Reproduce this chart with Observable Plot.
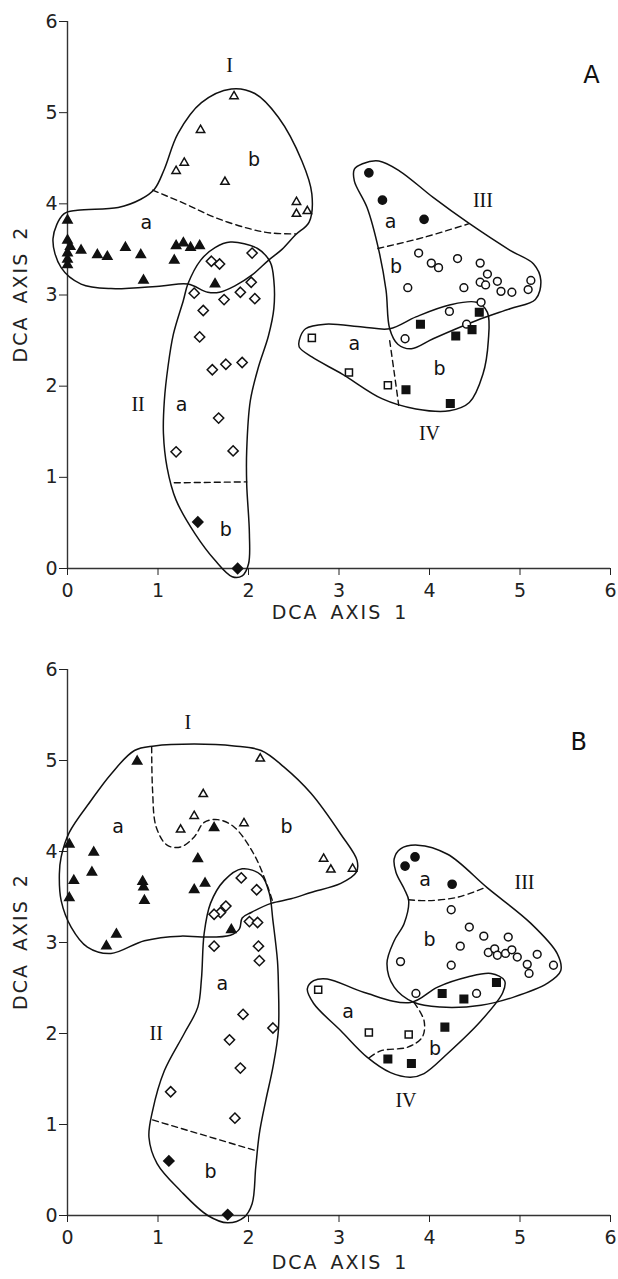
<!DOCTYPE html>
<html>
<head>
<meta charset="utf-8">
<script src="https://cdn.jsdelivr.net/npm/d3@7"></script>
<script src="https://cdn.jsdelivr.net/npm/@observablehq/plot@0.6"></script>
<style>
  html, body { margin: 0; padding: 0; background: #fff; }
  #chart svg { display: block; }
</style>
</head>
<body>
<div id="chart"></div>
<script>
// ---------- tick labels ----------
const xTicks = [0, 1, 2, 3, 4, 5, 6];
const yTicks = [0, 1, 2, 3, 4, 5, 6];
const xTitle = "DCA AXIS 1";
const yTitle = "DCA AXIS 2";

// ---------- Panel A : points ----------
const A_Ia = [[0,3.82],[0,3.60],[0.03,3.53],[0,3.46],[0,3.39],[0,3.33],[0.15,3.49],[0.33,3.44],[0.44,3.42],[0.64,3.52],[0.81,3.44],[0.84,3.16],[1.20,3.54],[1.28,3.57],[1.36,3.52],[1.46,3.54],[1.18,3.38],[1.63,3.12]];
const A_Ib = [[1.84,5.18],[1.47,4.81],[1.29,4.45],[1.20,4.36],[1.74,4.24],[2.53,4.02],[2.53,3.89],[2.65,3.92]];
const A_IIa = [[1.59,3.37],[1.68,3.34],[2.04,3.46],[2.03,3.14],[1.91,3.03],[2.07,2.96],[1.73,2.95],[1.40,3.02],[1.50,2.83],[1.46,2.54],[1.60,2.18],[1.75,2.24],[1.93,2.26],[1.67,1.65],[1.20,1.28],[1.83,1.29]];
const A_IIb = [[1.44,0.51],[1.88,0.0]];
const A_IIIa = [[3.33,4.34],[3.48,4.04],[3.94,3.83]];
const A_IIIb = [[3.88,3.46],[4.02,3.35],[4.10,3.30],[4.31,3.40],[4.56,3.35],[4.64,3.23],[4.56,3.14],[4.62,3.11],[4.75,3.15],[4.79,3.04],[4.91,3.03],[5.12,3.16],[5.09,3.06],[3.76,3.08],[4.38,3.08],[4.57,2.92],[4.22,2.82],[4.41,2.68],[3.73,2.52]];
const A_IVa = [[2.70,2.53],[3.11,2.15],[3.54,2.01]];
const A_IVb = [[4.55,2.81],[3.90,2.68],[4.29,2.55],[4.47,2.62],[3.74,1.96],[4.23,1.81]];

// ---------- Panel A : group outlines ----------
const A_hullI = [[-0.16,3.62],[-0.04,3.89],[0.11,3.93],[0.56,3.96],[0.81,4.05],[0.96,4.16],[1.07,4.38],[1.22,4.77],[1.48,5.11],[1.81,5.26],[2.07,5.21],[2.33,4.95],[2.59,4.47],[2.70,4.11],[2.67,3.80],[2.52,3.66],[2.37,3.50],[2.22,3.38],[2.04,3.22],[1.85,3.10],[1.68,3.03],[1.55,3.03],[1.33,3.12],[1.04,3.10],[0.48,3.07],[0.15,3.12],[-0.07,3.30]];
const A_dashI = [[0.94,4.15],[1.30,4.00],[1.63,3.85],[2.00,3.73],[2.25,3.68],[2.52,3.67]];
const A_hullII = [[1.80,3.58],[2.10,3.51],[2.24,3.36],[2.28,3.16],[2.28,2.85],[2.22,2.55],[2.11,2.21],[2.02,1.84],[1.98,1.29],[1.98,0.93],[2.01,0.38],[2.00,0.05],[1.93,-0.08],[1.82,-0.09],[1.63,0.09],[1.41,0.38],[1.20,0.75],[1.10,1.11],[1.06,1.48],[1.07,1.84],[1.11,2.21],[1.17,2.57],[1.28,2.94],[1.33,3.12],[1.47,3.38],[1.63,3.52]];
const A_dashII = [[1.18,0.94],[1.98,0.95]];
const A_hullIII = [[3.17,4.38],[3.26,4.44],[3.44,4.47],[3.67,4.36],[4.04,4.07],[4.43,3.79],[4.89,3.49],[5.15,3.34],[5.23,3.16],[5.17,2.95],[4.89,2.85],[4.52,2.72],[4.04,2.52],[3.80,2.41],[3.65,2.46],[3.56,2.63],[3.52,3.05],[3.44,3.49],[3.31,3.96],[3.17,4.25]];
const A_dashIII = [[3.43,3.51],[3.93,3.63],[4.43,3.78]];
const A_hullIV = [[2.56,2.50],[2.63,2.63],[2.85,2.68],[3.26,2.65],[3.56,2.63],[3.85,2.76],[4.22,2.89],[4.52,2.92],[4.64,2.81],[4.65,2.50],[4.59,2.13],[4.44,1.82],[4.22,1.73],[3.85,1.75],[3.48,1.86],[3.04,2.13],[2.70,2.32],[2.56,2.43]];
const A_dashIV = [[3.56,2.50],[3.61,2.15],[3.66,1.79]];

const A_numerals = [["I",1.79,5.52],["II",0.78,1.80],["III",4.59,4.04],["IV",4.0,1.48]];
const A_letters = [["a",0.87,3.79],["b",2.06,4.48],["a",1.26,1.79],["b",1.75,0.42],["a",3.57,3.80],["b",3.63,3.31],["a",3.17,2.46],["b",4.11,2.19]];
const A_panel = [["A",5.79,5.41]];

// ---------- Panel B : points ----------
const B_Ia = [[0.77,4.99],[1.62,4.26],[0.02,4.08],[0.29,3.99],[1.44,3.92],[0.07,3.68],[0.27,3.77],[0.83,3.67],[0.84,3.61],[0.85,3.46],[1.40,3.58],[1.52,3.65],[0.02,3.49],[0.54,3.09],[0.43,2.96],[1.81,3.14]];
const B_Ib = [[2.13,5.02],[1.50,4.63],[1.40,4.39],[1.25,4.24],[1.95,4.31],[2.83,3.92],[2.91,3.80],[3.15,3.81]];
const B_IIa = [[1.92,3.71],[2.09,3.58],[1.75,3.40],[1.69,3.33],[1.62,3.31],[2.01,3.23],[2.10,3.22],[1.62,2.96],[2.11,2.96],[2.12,2.80],[1.94,2.21],[2.27,2.06],[1.79,1.93],[1.91,1.62],[1.14,1.36],[1.85,1.07]];
const B_IIb = [[1.12,0.60],[1.77,0.01]];
const B_IIIa = [[3.84,3.94],[3.73,3.84],[4.25,3.64]];
const B_IIIb = [[4.24,3.36],[4.44,3.17],[4.60,3.07],[4.87,3.06],[4.34,2.96],[4.65,2.89],[4.72,2.93],[4.75,2.86],[4.84,2.88],[4.91,2.92],[4.97,2.84],[5.19,2.87],[5.08,2.76],[5.10,2.66],[5.37,2.75],[3.68,2.79],[4.24,2.75],[3.85,2.44],[4.52,2.44]];
const B_IVa = [[2.77,2.48],[3.33,2.01],[3.77,1.99]];
const B_IVb = [[4.74,2.56],[4.14,2.44],[4.38,2.38],[4.17,2.07],[3.54,1.72],[3.80,1.67]];

// ---------- Panel B : group outlines ----------
const B_hullI = [[-0.07,3.94],[0.02,4.21],[0.26,4.56],[0.48,4.85],[0.74,5.11],[0.96,5.16],[1.40,5.18],[1.84,5.16],[2.14,5.11],[2.39,4.93],[2.69,4.64],[3.02,4.19],[3.20,3.90],[3.19,3.77],[3.02,3.65],[2.69,3.55],[2.47,3.48],[2.25,3.43],[2.03,3.33],[1.93,3.27],[1.90,3.15],[1.80,3.08],[1.49,3.06],[1.25,3.07],[0.85,3.02],[0.48,2.88],[0.22,2.95],[0.04,3.17],[-0.07,3.46],[-0.09,3.75]];
const B_dashI = [[0.93,5.15],[0.94,4.67],[0.98,4.27],[1.10,4.07],[1.25,4.05],[1.40,4.16],[1.51,4.32],[1.66,4.35],[1.84,4.27],[2.06,3.97],[2.21,3.62],[2.27,3.44]];
const B_hullII = [[1.93,3.81],[2.14,3.74],[2.23,3.54],[2.27,3.24],[2.32,2.80],[2.33,2.55],[2.33,2.03],[2.27,1.63],[2.19,1.26],[2.12,0.90],[2.08,0.53],[2.04,0.13],[1.95,-0.02],[1.77,-0.08],[1.55,0.0],[1.25,0.27],[0.99,0.57],[0.90,0.86],[0.94,1.15],[1.07,1.59],[1.29,2.00],[1.44,2.29],[1.48,2.60],[1.51,3.10],[1.58,3.43],[1.73,3.68]];
const B_dashII = [[0.94,1.05],[2.09,0.71]];
const B_hullIII = [[3.61,3.92],[3.68,4.03],[3.87,4.07],[4.20,3.97],[4.64,3.60],[5.12,3.21],[5.41,2.88],[5.45,2.69],[5.30,2.55],[4.93,2.40],[4.57,2.31],[4.12,2.29],[3.83,2.34],[3.61,2.51],[3.53,2.77],[3.61,3.02],[3.72,3.21],[3.77,3.46],[3.72,3.59],[3.63,3.77]];
const B_dashIII = [[3.77,3.47],[3.99,3.46],[4.32,3.50],[4.63,3.61]];
const B_hullIV = [[2.65,2.49],[2.72,2.58],[2.87,2.60],[3.28,2.45],[3.79,2.34],[4.09,2.51],[4.42,2.62],[4.68,2.66],[4.83,2.58],[4.81,2.45],[4.57,2.14],[4.20,1.78],[3.94,1.56],[3.79,1.52],[3.57,1.57],[3.31,1.74],[3.02,2.03],[2.72,2.33]];
const B_dashIV = [[3.83,2.34],[3.94,2.14],[3.92,1.96],[3.76,1.85],[3.46,1.81],[3.33,1.73]];

const B_numerals = [["I",1.33,5.42],["II",0.98,2.00],["III",5.05,3.66],["IV",3.74,1.26]];
const B_letters = [["a",0.56,4.27],["b",2.42,4.27],["a",1.71,2.55],["b",1.58,0.48],["a",3.95,3.69],["b",4.00,3.03],["a",3.10,2.24],["b",4.06,1.83]];
const B_panel = [["B",5.65,5.20]];

// ---------- drawing helpers ----------
const INK = "#111";
const px = d => d[0], py = d => d[1];

function dots(data, symbol, filled, r) {
  return Plot.dot(data, {x: px, y: py, symbol, r, fill: filled ? INK : "white", stroke: INK, strokeWidth: 1.5});
}
function hull(data) {
  return Plot.line(data, {x: px, y: py, curve: "catmull-rom-closed", stroke: INK, strokeWidth: 1.5});
}
function dash(data) {
  return Plot.line(data, {x: px, y: py, curve: "catmull-rom", stroke: INK, strokeWidth: 1.4, strokeDasharray: "6,4"});
}

function panel(P, opts) {
  const svg = Plot.plot({
    width: 618,
    height: opts.height,
    marginTop: opts.marginTop,
    marginBottom: opts.marginBottom,
    marginLeft: 67,
    marginRight: 8,
    x: {domain: [0, 6]},
    y: {domain: [0, 6]},
    style: {fontFamily: "DejaVu Sans", color: "#222", background: "white", overflow: "visible"},
    marks: [
      Plot.ruleX([0], {y1: 0, y2: 6, stroke: "#333", strokeWidth: 1.4}),
      Plot.ruleY([0], {x1: 0, x2: 6, stroke: "#333", strokeWidth: 1.4}),
      Plot.axisX({ticks: xTicks, tickSize: 7, tickPadding: 8, fontSize: 19, label: null, tickFormat: d => String(d)}),
      Plot.axisY({ticks: yTicks, tickSize: 8, tickPadding: 2, fontSize: 19, label: null, tickFormat: d => String(d)}),
      Plot.text([xTitle], {text: d => d, frameAnchor: "bottom", dy: opts.xTitleDy, dx: 1, lineAnchor: "middle", fontSize: 19, fill: "#222"}),
      Plot.text([yTitle], {text: d => d, frameAnchor: "left", dx: -47, dy: -1, rotate: -90, textAnchor: "middle", lineAnchor: "middle", fontSize: 19, fill: "#222"}),
      hull(P.hullI), dash(P.dashI),
      hull(P.hullII), dash(P.dashII),
      hull(P.hullIII), dash(P.dashIII),
      hull(P.hullIV), dash(P.dashIV),
      dots(P.Ia, "triangle2", true, 4.4),
      dots(P.Ib, "triangle2", false, 4),
      dots(P.IIa, "diamond2", false, 4.6),
      dots(P.IIb, "diamond2", true, 4.6),
      dots(P.IIIa, "circle", true, 4.1),
      dots(P.IIIb, "circle", false, 3.9),
      dots(P.IVa, "square2", false, 4.5),
      dots(P.IVb, "square2", true, 4.8),
      Plot.text(P.numerals, {x: d => d[1], y: d => d[2], text: d => d[0], fontFamily: "Liberation Serif", fontSize: 20, fill: INK}),
      Plot.text(P.letters, {x: d => d[1], y: d => d[2], text: d => d[0], fontFamily: "DejaVu Sans", fontSize: 19, fill: INK}),
      Plot.text(P.panel, {x: d => d[1], y: d => d[2], text: d => d[0], fontFamily: "DejaVu Sans", fontSize: 24, fill: INK})
    ]
  });
  // widen the axis titles' letter spacing, as in the original figure
  svg.querySelectorAll("text").forEach(t => {
    if (t.textContent === xTitle || t.textContent === yTitle) {
      t.style.letterSpacing = "2px";
      t.style.wordSpacing = "4px";
    }
  });
  return svg;
}

const PA = {Ia: A_Ia, Ib: A_Ib, IIa: A_IIa, IIb: A_IIb, IIIa: A_IIIa, IIIb: A_IIIb, IVa: A_IVa, IVb: A_IVb,
  hullI: A_hullI, dashI: A_dashI, hullII: A_hullII, dashII: A_dashII, hullIII: A_hullIII, dashIII: A_dashIII, hullIV: A_hullIV, dashIV: A_dashIV,
  numerals: A_numerals, letters: A_letters, panel: A_panel};
const PB = {Ia: B_Ia, Ib: B_Ib, IIa: B_IIa, IIb: B_IIb, IIIa: B_IIIa, IIIb: B_IIIb, IVa: B_IVa, IVb: B_IVb,
  hullI: B_hullI, dashI: B_dashI, hullII: B_hullII, dashII: B_dashII, hullIII: B_hullIII, dashIII: B_dashIII, hullIV: B_hullIV, dashIV: B_dashIV,
  numerals: B_numerals, letters: B_letters, panel: B_panel};

const chart = document.getElementById("chart");
chart.appendChild(panel(PA, {height: 640, marginTop: 21, marginBottom: 72, xTitleDy: 44}));
chart.appendChild(panel(PB, {height: 639, marginTop: 29, marginBottom: 64, xTitleDy: 47}));
</script>
</body>
</html>
